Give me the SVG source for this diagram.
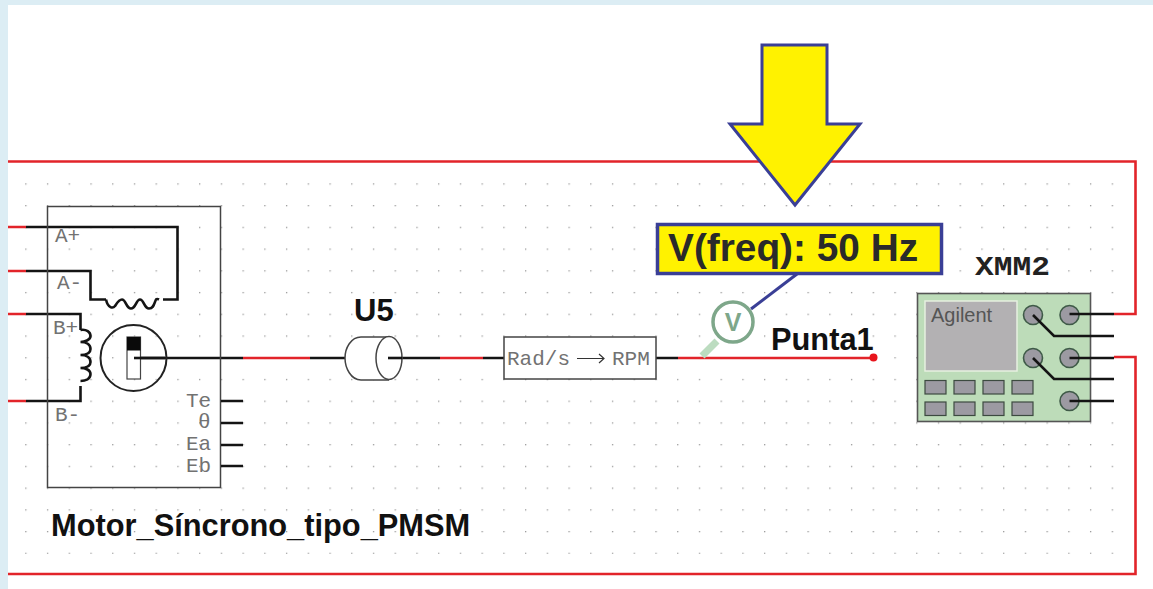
<svg xmlns="http://www.w3.org/2000/svg" width="1153" height="589" viewBox="0 0 1153 589">
<defs>
<pattern id="grid" x="25.2" y="183.3" width="21.73" height="21.73" patternUnits="userSpaceOnUse"><rect x="0" y="0" width="1.3" height="1.3" fill="#9a9a9a"/></pattern>
</defs>
<style>
.blk{fill:none;stroke:#141414;stroke-width:2.6}
.red{fill:none;stroke:#e2242a;stroke-width:2.6}
.lab{font-family:"Liberation Mono",monospace;font-size:21px;fill:#727272}
.bold{font-family:"Liberation Sans",Arial,sans-serif;font-weight:bold;fill:#111}
.btn{fill:#9c9aa2;stroke:#3c4a40;stroke-width:1.2}
.term{fill:#9c9aa2;stroke:#3f5a48;stroke-width:1.6}
</style>
<rect width="1153" height="589" fill="#dcedf4"/>
<rect x="8" y="5" width="1145" height="584" fill="#fff"/>
<rect x="24" y="182" width="1092" height="372" fill="url(#grid)"/>
<g id="connectors">
<path class="red" d="M8 161.500H1135.500V314H1114"/>
<path class="red" d="M8 574H1135.500V357H1114"/>
<path class="red" d="M8 227H26M8 271H26M8 314H26M8 401H26"/>
<path class="blk" d="M26 227H177.500V299.500H163"/>
<path class="blk" d="M26 271H90.500V299.500H106"/>
<path class="blk" d="M26 314H80.500V330M80.500 386V401H26"/>
<path class="blk" d="M134 358H243M310 358H345M388 358H440M483 358H504M656 358H678"/>
<path class="red" d="M243 358H310M440 358H483M678 358H873"/>
</g>
<g id="motor">
<rect x="47.500" y="206.500" width="173" height="281" fill="none" stroke="#444" stroke-width="1.500"/>
<path class="blk" d="M106 299.500c2 9 7 9 9 6.500 2-3 4-6.500 7-6.500 4 0 4 9 9 9s5-9 9-9 4 9 9 9 5-5 7-9c1-1 3 0 3 0" />
<path class="blk" d="M80.500 330c6-1 10 2 10 6s-6 6-10 6c5 0 10 2 10 7s-6 6-10 6c5 0 10 2 10 7s-6 6-10 6c5 0 10 2 10 6 0 5-5 7-10 7"/>
<circle cx="133.500" cy="358" r="33" fill="none" stroke="#222" stroke-width="2"/>
<rect x="127" y="337" width="13.500" height="42" fill="#fff" stroke="#444" stroke-width="1.200"/>
<rect x="127" y="337" width="13.500" height="13.500" fill="#0a0a0a"/>
<path class="blk" d="M134 358H165"/>
<path class="blk" d="M221 401H243M221 423H243M221 445H243M221 466H243"/>
<text class="lab" x="55" y="242">A+</text>
<text class="lab" x="57" y="289">A-</text>
<text class="lab" x="53" y="334">B+</text>
<text class="lab" x="55" y="421">B-</text>
<text class="lab" x="186" y="407">Te</text>
<text class="lab" x="198" y="428">θ</text>
<text class="lab" x="186" y="450">Ea</text>
<text class="lab" x="186" y="472">Eb</text>
<text class="bold" x="51" y="536" font-size="30.800">Motor_Síncrono_tipo_PMSM</text>
</g>
<g id="u5">
<path d="M389 337H361C351 337 345 348 345 358S351 380 361 380H389" fill="#fff" stroke="#444" stroke-width="1.500"/>
<ellipse cx="389" cy="358" rx="13" ry="21.500" fill="#fff" stroke="#444" stroke-width="1.500"/>
<path class="blk" d="M388 358H402"/>
<text class="bold" x="354" y="321" font-size="31">U5</text>
</g>
<g id="converter">
<rect x="504" y="337" width="152" height="42" fill="#fff" stroke="#444" stroke-width="1.500"/>
<text class="lab" x="507" y="365">Rad/s</text>
<path d="M577 358.500H604M599 354l5 4.500-5 4.500" fill="none" stroke="#333" stroke-width="1.200"/>
<text class="lab" x="612" y="365">RPM</text>
</g>
<g id="probe">
<path d="M751 309L797 274" fill="none" stroke="#3a3f96" stroke-width="3"/>
<path d="M717 341L702 356" fill="none" stroke="#bcdcc0" stroke-width="7"/>
<circle cx="733" cy="322" r="20" fill="#fff" stroke="#7ea78a" stroke-width="3.500"/>
<text x="733" y="331" text-anchor="middle" font-family="Liberation Sans,Arial,sans-serif" font-size="25" font-weight="bold" fill="#7ea78a">V</text>
<circle cx="873.500" cy="357.500" r="4" fill="#e8141c"/>
<text class="bold" x="771" y="350" font-size="30.800">Punta1</text>
</g>
<g id="freq-label">
<rect x="657.500" y="224.500" width="284" height="49" fill="#fff200" stroke="#3a3f96" stroke-width="3.500"/>
<text class="bold" x="668" y="261" font-size="38.800" style="fill:#2a2a2a">V(freq): 50 Hz</text>
</g>
<g id="arrow">
<path d="M762 45H827V124H860L795 205L730 124H762Z" fill="#fff200" stroke="#3a3f96" stroke-width="3"/>
</g>
<g id="xmm2">
<rect x="917.500" y="293.500" width="173" height="128" fill="#bddcb9" stroke="#555" stroke-width="1.600"/>
<rect x="925" y="301" width="92" height="70" fill="#b3b1b3" stroke="#e6f0e0" stroke-width="1.500"/>
<text x="931" y="322" font-family="Liberation Sans,Arial,sans-serif" font-size="20" fill="#555">Agilent</text>
<circle class="term" cx="1033" cy="315" r="9.500"/>
<circle class="term" cx="1069.500" cy="315" r="9.500"/>
<circle class="term" cx="1033" cy="358" r="9.500"/>
<circle class="term" cx="1069.500" cy="358" r="9.500"/>
<circle class="term" cx="1069.500" cy="401" r="9.500"/>
<path class="blk" d="M1069.500 314H1114M1033 315L1054 336H1114M1069.500 358H1114M1033 358L1054 379H1114M1069.500 401H1114"/>
<g>
<rect class="btn" x="925" y="380.500" width="21" height="13.500"/><rect class="btn" x="954" y="380.500" width="21" height="13.500"/><rect class="btn" x="983" y="380.500" width="21" height="13.500"/><rect class="btn" x="1012" y="380.500" width="21" height="13.500"/>
<rect class="btn" x="925" y="402" width="21" height="13.500"/><rect class="btn" x="954" y="402" width="21" height="13.500"/><rect class="btn" x="983" y="402" width="21" height="13.500"/><rect class="btn" x="1012" y="402" width="21" height="13.500"/>
</g>
<text x="975" y="275" font-family="Liberation Mono,monospace" font-size="27" font-weight="bold" fill="#222" textLength="75" lengthAdjust="spacingAndGlyphs">XMM2</text>
</g>
</svg>
